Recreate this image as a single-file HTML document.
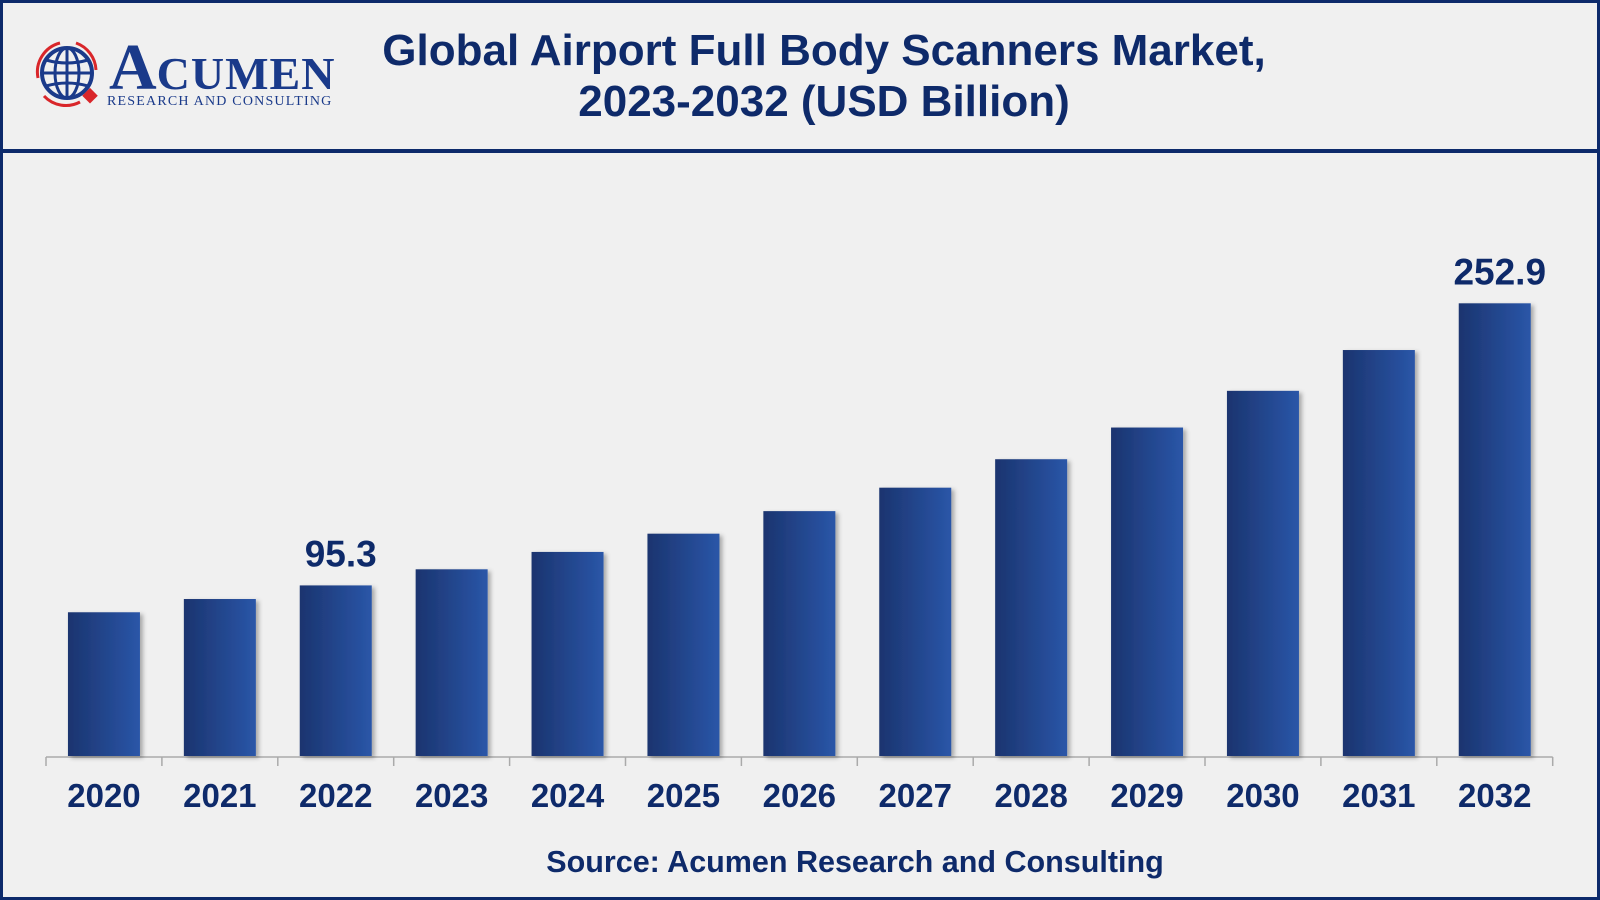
<!DOCTYPE html>
<html><head><meta charset="utf-8"><style>
html,body{margin:0;padding:0;}
body{width:1600px;height:900px;background:#f0f0f0;position:relative;overflow:hidden;font-family:"Liberation Sans",sans-serif;}
.frame{position:absolute;left:0;top:0;width:1594px;height:894px;border:3px solid #0d2a6b;}
.divider{position:absolute;left:0;top:149px;width:1600px;height:4px;background:#0d2a6b;}
.title{position:absolute;left:224px;width:1200px;top:25px;text-align:center;color:#0e2a6a;font-weight:bold;font-size:44px;line-height:51px;}
.logo-word{position:absolute;left:109px;top:30px;font-family:"Liberation Serif",serif;color:#1a3a8a;font-weight:bold;white-space:nowrap;}
.logo-word .big{font-size:66px;}
.logo-word .rest{font-size:46px;letter-spacing:1px;}
.logo-sub{position:absolute;left:107px;top:94px;font-family:"Liberation Serif",serif;color:#1a3a8a;font-size:14px;letter-spacing:1.2px;white-space:nowrap;}
.source{position:absolute;left:0;width:1710px;top:845px;text-align:center;color:#0e2a6a;font-weight:bold;font-size:30.5px;}
</style></head><body>
<div class="frame"></div>
<div class="divider"></div>
<svg style="position:absolute;left:30px;top:38px" width="80" height="72">
<circle cx="37" cy="35" r="25" fill="none" stroke="#1a3a8a" stroke-width="4"/>
<ellipse cx="37" cy="35" rx="12" ry="25" fill="none" stroke="#1a3a8a" stroke-width="3"/>
<line x1="37" y1="10" x2="37" y2="60" stroke="#1a3a8a" stroke-width="3"/>
<line x1="12" y1="35" x2="62" y2="35" stroke="#1a3a8a" stroke-width="3"/>
<path d="M16 22 Q37 28 58 22 M16 48 Q37 42 58 48" fill="none" stroke="#1a3a8a" stroke-width="3"/>
<path d="M8 40 A30 30 0 0 1 30 5 M46 5 A30 30 0 0 1 66 32 M14 58 A30 30 0 0 0 50 64" fill="none" stroke="#d9262a" stroke-width="3"/>
<rect x="55" y="52" width="11" height="11" fill="#d9262a" transform="rotate(45 60 57)"/>
</svg>
<div class="logo-word"><span class="big">A</span><span class="rest">CUMEN</span></div>
<div class="logo-sub">RESEARCH AND CONSULTING</div>
<div class="title">Global Airport Full Body Scanners Market,<br>2023-2032 (USD Billion)</div>
<svg id="chart" style="position:absolute;left:0;top:0" width="1600" height="900">
<defs><linearGradient id="bg" x1="0" x2="1" y1="0" y2="0"><stop offset="0" stop-color="#1b346f"/><stop offset="1" stop-color="#2a56a8"/></linearGradient>
<filter id="sh" x="-20%" y="-5%" width="150%" height="115%"><feDropShadow dx="3" dy="2" stdDeviation="2" flood-color="#000" flood-opacity="0.3"/></filter></defs>
</svg>
<div class="source">Source: Acumen Research and Consulting</div>
<script>
const categories=["2020","2021","2022","2023","2024","2025","2026","2027","2028","2029","2030","2031","2032"];
const values=[80.3,87.7,95.3,104.3,114.0,124.2,136.8,149.9,165.8,183.5,204.0,226.8,252.9];
const labelsShown=["","","95.3","","","","","","","","","","252.9"];
const svg=document.getElementById('chart');
const NS='http://www.w3.org/2000/svg';
const x0=46,step=115.9,baseY=756,scale=1.79,bw=72;
const xC=i=>x0+step*(i+0.5);
const yV=v=>baseY-v*scale;
function mk(t,a){const e=document.createElementNS(NS,t);for(const k in a)e.setAttribute(k,a[k]);svg.appendChild(e);return e;}
let ax=mk('line',{x1:x0,x2:x0+step*categories.length,y1:baseY+1,y2:baseY+1,stroke:'#aaa','stroke-width':1.5});


for(let i=0;i<=categories.length;i++){
 const t=mk('line',{x1:x0+step*i,x2:x0+step*i,y1:baseY+1,y2:baseY+10,stroke:'#aaa','stroke-width':1.5});
 
 
}
categories.forEach((c,i)=>{
 const y=yV(values[i]);
 const r=mk('rect',{x:xC(i)-bw/2,y:y,width:bw,height:baseY-y,fill:'url(#bg)',filter:'url(#sh)'});
 
 
 const tx=mk('text',{x:xC(i),y:807,'text-anchor':'middle','font-family':'Liberation Sans, sans-serif','font-weight':'bold','font-size':33,fill:'#0e2a6a'});
 tx.textContent=c;
 
 
 if(labelsShown[i]){
  const vl=mk('text',{x:xC(i)+5,y:y-19,'text-anchor':'middle','font-family':'Liberation Sans, sans-serif','font-weight':'bold','font-size':37,fill:'#0e2a6a'});
  vl.textContent=labelsShown[i];
  
  
 }
});
</script>
</body></html>
